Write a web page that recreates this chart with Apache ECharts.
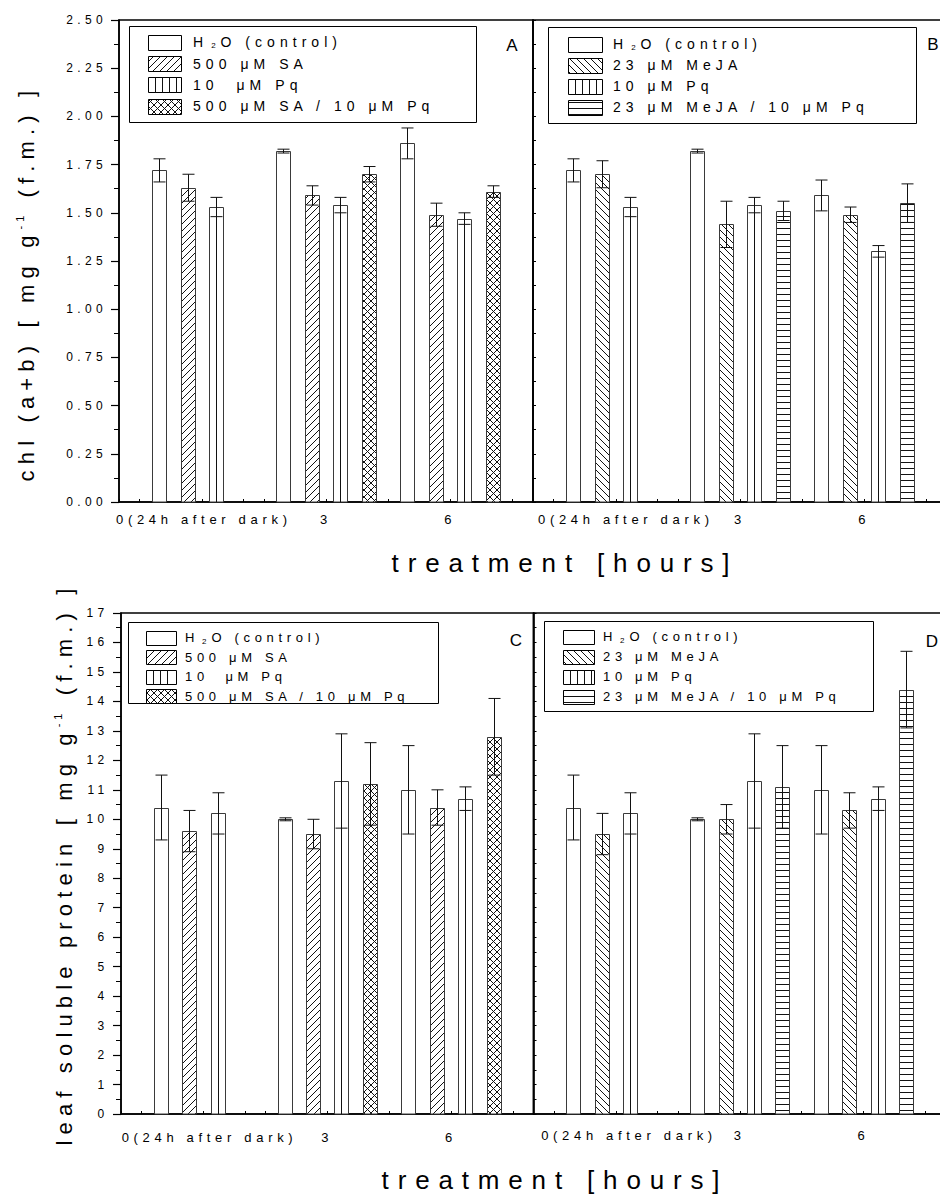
<!DOCTYPE html>
<html>
<head>
<meta charset="utf-8">
<script src="https://cdn.jsdelivr.net/npm/echarts@6/dist/echarts.min.js"></script>
<style>
  html, body { margin: 0; padding: 0; background: #fff; }
  #chart { width: 940px; height: 1196px; }
</style>
</head>
<body>
<div id="chart"></div>
<script>
// hours of treatment (x positions) and their tick labels
const hours = [0, 3, 6];
const hourLabels = { 0: '0(24h after dark)', 3: '3', 6: '6' };

// A: chl (a+b), SA experiment (null = not measured)
const chlSaH2o = [1.72, 1.82, 1.86];
const chlSaH2oErr = [0.06, 0.01, 0.08];
const chlSaSa = [1.63, 1.59, 1.49];
const chlSaSaErr = [0.07, 0.05, 0.06];
const chlSaPq = [1.53, 1.54, 1.47];
const chlSaPqErr = [0.05, 0.04, 0.03];
const chlSaSaPq = [null, 1.70, 1.61];
const chlSaSaPqErr = [null, 0.04, 0.03];

// B: chl (a+b), MeJA experiment
const chlJaH2o = [1.72, 1.82, 1.59];
const chlJaH2oErr = [0.06, 0.01, 0.08];
const chlJaMeja = [1.70, 1.44, 1.49];
const chlJaMejaErr = [0.07, 0.12, 0.04];
const chlJaPq = [1.53, 1.54, 1.30];
const chlJaPqErr = [0.05, 0.04, 0.03];
const chlJaMejaPq = [null, 1.51, 1.55];
const chlJaMejaPqErr = [null, 0.05, 0.10];

// C: leaf soluble protein, SA experiment
const protSaH2o = [10.4, 10.0, 11.0];
const protSaH2oErr = [1.1, 0.05, 1.5];
const protSaSa = [9.6, 9.5, 10.4];
const protSaSaErr = [0.7, 0.5, 0.6];
const protSaPq = [10.2, 11.3, 10.7];
const protSaPqErr = [0.7, 1.6, 0.4];
const protSaSaPq = [null, 11.2, 12.8];
const protSaSaPqErr = [null, 1.4, 1.3];

// D: leaf soluble protein, MeJA experiment
const protJaH2o = [10.4, 10.0, 11.0];
const protJaH2oErr = [1.1, 0.05, 1.5];
const protJaMeja = [9.5, 10.0, 10.3];
const protJaMejaErr = [0.7, 0.5, 0.6];
const protJaPq = [10.2, 11.3, 10.7];
const protJaPqErr = [0.7, 1.6, 0.4];
const protJaMejaPq = [null, 11.1, 14.4];
const protJaMejaPqErr = [null, 1.4, 1.3];

const saLegend = ['{n|H}{s|2}{n|O (control)}', '500 μM SA', '10  μM Pq', '500 μM SA / 10 μM Pq'];
const jaLegend = ['{n|H}{s|2}{n|O (control)}', '23 μM MeJA', '10 μM Pq', '23 μM MeJA / 10 μM Pq'];

const FONT = 'Liberation Sans';
const SLOT_H = 0.69;   // bar slot width in hours
const BAR_H = 0.34;    // bar width in hours

// the original uses wide letter spacing; measure text with it so layout stays right
const SPACING = [[25, 0.34], [20, 0.28], [16, 0], [0, 0.36]];
function spacingEm(px) {
  for (const [min, em] of SPACING) if (px >= min) return em;
  return 0;
}
const measureCtx = document.createElement('canvas').getContext('2d');
if (echarts.setPlatformAPI) {
  echarts.setPlatformAPI({
    measureText(text, font) {
      measureCtx.font = font || '12px sans-serif';
      const m = /(\d+(?:\.\d+)?)px/.exec(font || '12px');
      const px = m ? parseFloat(m[1]) : 12;
      text = String(text);
      return { width: measureCtx.measureText(text).width + text.length * spacingEm(px) * px };
    }
  });
}

function makeTile(kind) {
  const s = 7;
  const c = document.createElement('canvas');
  c.width = s;
  c.height = kind === 'horiz' ? 6 : s;
  const g = c.getContext('2d');
  g.fillStyle = '#fff';
  g.fillRect(0, 0, c.width, c.height);
  g.strokeStyle = '#111';
  g.lineWidth = 1;
  g.beginPath();
  if (kind === 'diagUp' || kind === 'cross') {
    g.moveTo(0, s); g.lineTo(s, 0);
    g.moveTo(-1, 1); g.lineTo(1, -1);
    g.moveTo(s - 1, s + 1); g.lineTo(s + 1, s - 1);
  }
  if (kind === 'diagDown' || kind === 'cross') {
    g.moveTo(0, 0); g.lineTo(s, s);
    g.moveTo(-1, s - 1); g.lineTo(1, s + 1);
    g.moveTo(s - 1, -1); g.lineTo(s + 1, 1);
  }
  if (kind === 'horiz') {
    g.moveTo(0, 0.5); g.lineTo(s, 0.5);
  }
  g.stroke();
  return c;
}
const fills = {
  none: '#fff',
  vert: '#fff',
  diagUp: { image: makeTile('diagUp'), repeat: 'repeat' },
  diagDown: { image: makeTile('diagDown'), repeat: 'repeat' },
  cross: { image: makeTile('cross'), repeat: 'repeat' },
  horiz: { image: makeTile('horiz'), repeat: 'repeat' }
};

function vertLines(x, y, w, h) {
  const out = [];
  for (let lx = x + 7; lx < x + w - 2; lx += 7) {
    out.push({ type: 'line', shape: { x1: lx, y1: y, x2: lx, y2: y + h }, style: { stroke: '#111', lineWidth: 1 } });
  }
  return out;
}

function barRenderer(slot, hatch) {
  return function (params, api) {
    const x = api.value(0) + (slot - 1.5) * SLOT_H;
    const v = api.value(1);
    const e = api.value(2);
    const base = api.coord([x, 0]);
    const top = api.coord([x, v]);
    const w = Math.round(api.size([BAR_H, 0])[0]);
    const left = Math.round(base[0] - w / 2) + 0.5;
    const ty = Math.round(top[1]) + 0.5;
    const h = base[1] - ty;
    const cx = left + w / 2;
    const children = [{
      type: 'rect',
      shape: { x: left, y: ty, width: w, height: h },
      style: { fill: fills[hatch], stroke: '#3a3a3a', lineWidth: 1 }
    }];
    if (hatch === 'vert') children.push(...vertLines(left, ty, w, h));
    const hi = api.coord([x, v + e])[1];
    const lo = api.coord([x, v - e])[1];
    const cap = 6;
    const ls = { stroke: '#111', lineWidth: 1 };
    children.push(
      { type: 'line', shape: { x1: cx, y1: hi, x2: cx, y2: lo }, style: ls },
      { type: 'line', shape: { x1: cx - cap, y1: hi, x2: cx + cap, y2: hi }, style: ls },
      { type: 'line', shape: { x1: cx - cap, y1: lo, x2: cx + cap, y2: lo }, style: ls }
    );
    return { type: 'group', children };
  };
}

const panels = [
  { sets: [[chlSaH2o, chlSaH2oErr, 'none'], [chlSaSa, chlSaSaErr, 'diagUp'], [chlSaPq, chlSaPqErr, 'vert'], [chlSaSaPq, chlSaSaPqErr, 'cross']] },
  { sets: [[chlJaH2o, chlJaH2oErr, 'none'], [chlJaMeja, chlJaMejaErr, 'diagDown'], [chlJaPq, chlJaPqErr, 'vert'], [chlJaMejaPq, chlJaMejaPqErr, 'horiz']] },
  { sets: [[protSaH2o, protSaH2oErr, 'none'], [protSaSa, protSaSaErr, 'diagUp'], [protSaPq, protSaPqErr, 'vert'], [protSaSaPq, protSaSaPqErr, 'cross']] },
  { sets: [[protJaH2o, protJaH2oErr, 'none'], [protJaMeja, protJaMejaErr, 'diagDown'], [protJaPq, protJaPqErr, 'vert'], [protJaMejaPq, protJaMejaPqErr, 'horiz']] }
];

const series = [];
panels.forEach((p, pi) => {
  p.sets.forEach(([vals, errs, hatch], slot) => {
    series.push({
      type: 'custom',
      xAxisIndex: pi,
      yAxisIndex: pi,
      clip: false,
      silent: true,
      encode: { x: 0, y: 1 },
      renderItem: barRenderer(slot, hatch),
      data: hours.map((h, i) => (vals[i] == null ? null : [h, vals[i], errs[i]])).filter(Boolean)
    });
  });
});

function xAxisFor(gi, margin, zeroShift) {
  return {
    type: 'value', gridIndex: gi, min: -2, max: 8, interval: 1,
    axisLine: { show: true, onZero: false, lineStyle: { color: '#000', width: 1.5 } },
    axisTick: { show: true, inside: true, length: 3, lineStyle: { color: '#000' } },
    minorTick: { show: true, splitNumber: 2, length: 3, lineStyle: { color: '#000' } },
    splitLine: { show: false },
    minorSplitLine: { show: false },
    axisLabel: {
      margin, color: '#000', fontSize: 13, fontFamily: FONT,
      showMinLabel: true, showMaxLabel: true, hideOverlap: false,
      formatter: (v) => (v === 0 ? '{z|' + hourLabels[0] + '}' : (hourLabels[v] || '')),
      rich: { z: { fontSize: 13, fontFamily: FONT, color: '#000', padding: [0, 0, 0, zeroShift * 2] } }
    }
  };
}

function yAxisFor(gi, max, step, digits, withLabels, margin) {
  return {
    type: 'value', gridIndex: gi, min: 0, max, interval: step,
    axisLine: { show: true, onZero: false, lineStyle: { color: '#000', width: 1.5 } },
    axisTick: withLabels
      ? { show: true, inside: false, length: 8, lineStyle: { color: '#000', width: 1.2 } }
      : { show: true, inside: true, length: 3, lineStyle: { color: '#000' } },
    minorTick: { show: true, splitNumber: 2, length: withLabels ? 5 : 3, lineStyle: { color: '#000' } },
    splitLine: { show: false },
    minorSplitLine: { show: false },
    axisLabel: {
      show: withLabels, margin, color: '#000', fontSize: 12, fontFamily: FONT,
      formatter: (v) => v.toFixed(digits)
    }
  };
}

const gridBase = { show: true, borderColor: '#000', borderWidth: 1.5, containLabel: false, outerBoundsMode: 'none' };

const richLegend = (size) => ({
  n: { fontSize: size, fontFamily: FONT, fill: '#000' },
  s: { fontSize: Math.round(size * 0.6), fontFamily: FONT, fill: '#000', padding: [7, 2, 0, 3] }
});

function legendGraphic(box, sw, rows, textX, size, labels, hatches) {
  const children = [{
    type: 'rect',
    shape: { x: box[0] + 0.5, y: box[1] + 0.5, width: box[2] - box[0], height: box[3] - box[1] },
    style: { fill: '#fff', stroke: '#000', lineWidth: 1 }
  }];
  rows.forEach((cy, i) => {
    const y = Math.round(cy - sw[2] / 2) + 0.5;
    children.push({
      type: 'rect',
      shape: { x: sw[0] + 0.5, y, width: sw[1], height: sw[2] },
      style: { fill: fills[hatches[i]], stroke: '#000', lineWidth: 1 }
    });
    if (hatches[i] === 'vert') children.push(...vertLines(sw[0] + 0.5, y, sw[1], sw[2]));
    children.push({
      type: 'text', x: textX, y: cy,
      style: {
        text: labels[i], fontSize: size, fontFamily: FONT, fill: '#000',
        align: 'left', verticalAlign: 'middle', rich: richLegend(size)
      }
    });
  });
  return { type: 'group', silent: true, children };
}

function plainText(text, x, y, size, rotation) {
  return {
    type: 'text', x, y, rotation: rotation || 0, silent: true,
    style: {
      text, fontSize: size, fontFamily: FONT, fill: '#000', align: 'center', verticalAlign: 'middle',
      rich: {
        t: { fontSize: size, fontFamily: FONT, fill: '#000' },
        sup: { fontSize: 11, fontFamily: FONT, fill: '#000', padding: [0, 2, 12, 0] }
      }
    }
  };
}

const option = {
  animation: false,
  backgroundColor: '#fff',
  grid: [
    Object.assign({ left: 119, top: 20, width: 414, height: 482 }, gridBase),
    Object.assign({ left: 533, top: 20, width: 414, height: 482 }, gridBase),
    Object.assign({ left: 121, top: 613, width: 412.5, height: 501 }, gridBase),
    Object.assign({ left: 533.5, top: 613, width: 412.5, height: 501 }, gridBase)
  ],
  xAxis: [xAxisFor(0, 9, 2), xAxisFor(1, 9, 10), xAxisFor(2, 15, 6), xAxisFor(3, 13, 13)],
  yAxis: [
    yAxisFor(0, 2.5, 0.25, 2, true, 12),
    yAxisFor(1, 2.5, 0.25, 2, false, 12),
    yAxisFor(2, 17, 1, 0, true, 12.5),
    yAxisFor(3, 17, 1, 0, false, 12.5)
  ],
  series,
  graphic: [
    legendGraphic([129, 26, 476, 122], [148, 33, 15], [42, 63.5, 84.5, 106], 193, 14, saLegend, ['none', 'diagUp', 'vert', 'cross']),
    legendGraphic([548, 27, 916, 123], [568, 34, 15], [44, 65, 86, 107], 613, 14, jaLegend, ['none', 'diagDown', 'vert', 'horiz']),
    legendGraphic([128, 622, 438, 703], [146, 30, 14], [637.5, 657, 676.5, 696], 185, 13, saLegend, ['none', 'diagUp', 'vert', 'cross']),
    legendGraphic([544, 621, 873, 711], [563, 31, 14], [636.5, 656.5, 676.5, 696.5], 603, 13, jaLegend, ['none', 'diagDown', 'vert', 'horiz']),
    plainText('A', 512, 45, 17),
    plainText('B', 933, 44, 17),
    plainText('C', 516, 640, 17),
    plainText('D', 932, 641, 17),
    plainText('{t|chl (a+b) [ mg g}{sup|-1}{t| (f.m.) ]}', 26, 283, 22, Math.PI / 2),
    plainText('{t|leaf soluble protein [ mg g}{sup|-1}{t| (f.m.) ]}', 64, 864, 22, Math.PI / 2),
    plainText('treatment [hours]', 565, 563, 26),
    plainText('treatment [hours]', 555, 1180, 26)
  ]
};

const chart = echarts.init(document.getElementById('chart'), null, { renderer: 'svg', width: 940, height: 1196 });
chart.setOption(option);

function spaceLetters() {
  document.querySelectorAll('#chart text').forEach((t) => {
    const px = parseFloat(getComputedStyle(t).fontSize);
    t.style.letterSpacing = (spacingEm(px) * px).toFixed(2) + 'px';
  });
}
spaceLetters();
chart.on('finished', spaceLetters);
</script>
</body>
</html>
